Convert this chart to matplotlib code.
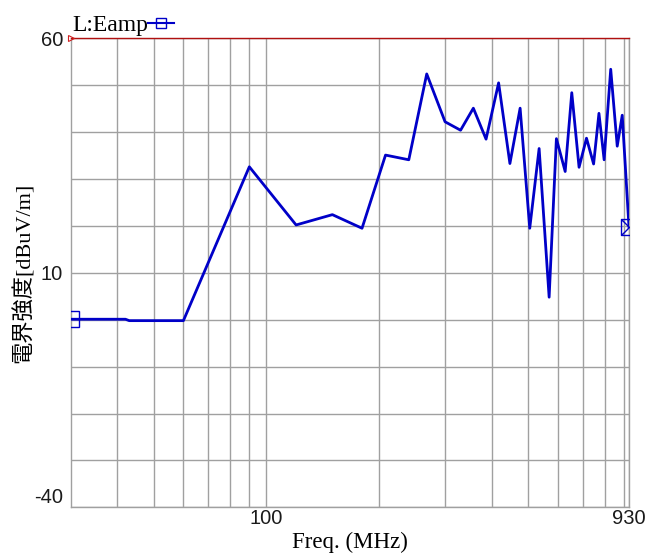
import matplotlib
matplotlib.use("Agg")
import matplotlib.pyplot as plt
from matplotlib.lines import Line2D
from matplotlib.path import Path
from matplotlib.ticker import FixedLocator, NullFormatter

# 測定データ (周波数 MHz, 電界強度 dBuV/m)
freq = [30, 42, 43, 60, 90, 120, 150, 180, 208, 240, 268, 300, 330, 357,
        386, 417, 447, 476, 505, 535, 569, 595, 628, 654, 684, 716, 748,
        773, 798, 831, 865, 892, 930]
level = [0.1, 0.1, -0.2, -0.2, 32.6, 20.2, 22.4, 19.5, 35.1, 34.1, 52.4,
         42.2, 40.4, 45.1, 38.5, 50.5, 33.3, 45.1, 19.5, 36.5, 4.8, 38.6,
         31.6, 48.4, 32.5, 38.7, 33.2, 44.0, 34.1, 53.4, 37.0, 43.6, 19.7]

x_major = [100, 930]
x_minor = [40, 50, 60, 70, 80, 90, 200, 300, 400, 500, 600, 700, 800, 900]
y_major = [-40, 10, 60]
y_minor = [-30, -20, -10, 0, 20, 30, 40, 50]

LINE_C = "#0000c8"
GRID_C = "#a0a0a0"
TICK_FONT = ["Liberation Sans", "DejaVu Sans"]
TEXT_FONT = ["Liberation Serif", "Noto Sans CJK JP"]

fig = plt.figure(figsize=(6.47, 5.6), dpi=100)
ax = fig.add_axes([0.1093, 0.0941, 0.8629, 0.8375])

ax.set_xscale("log")
ax.set_xlim(30, 930)
ax.set_ylim(-40, 60)

ax.xaxis.set_major_locator(FixedLocator(x_major))
ax.xaxis.set_minor_locator(FixedLocator(x_minor))
ax.xaxis.set_minor_formatter(NullFormatter())
ax.set_xticklabels([str(v) for v in x_major])
ax.yaxis.set_major_locator(FixedLocator(y_major))
ax.yaxis.set_minor_locator(FixedLocator(y_minor))
ax.set_yticklabels([str(v) for v in y_major])

ax.grid(True, which="both", color=GRID_C, lw=1.0)
ax.tick_params(which="both", length=0)
ax.tick_params(axis="y", pad=5.5)
ax.tick_params(axis="x", pad=1.5)
for lab in ax.get_xticklabels() + ax.get_yticklabels():
    lab.set_fontfamily(TICK_FONT)
    lab.set_fontsize(14.5)
    lab.set_color("#1a1a1a")
ax.get_yticklabels()[0].set_va("bottom")

for side in ("left", "bottom", "right"):
    ax.spines[side].set_color(GRID_C)
    ax.spines[side].set_linewidth(1.0)
ax.spines["top"].set_color("#b01010")
ax.spines["top"].set_linewidth(1.0)

# 測定波形
ax.plot(freq, level, color=LINE_C, lw=2.0, zorder=3)

# 始点・終点マーカー (枠で切れる)
ax.plot(freq[0], level[0], marker="s", ms=11.5, mfc="none", mec=LINE_C,
        mew=1.0, zorder=4)
end_mark = Path([(-1, -1), (1, -1), (1, 1), (-1, 1), (-1, -1),
                 (-1, 1), (0, 0), (-1, -1)],
                [Path.MOVETO, Path.LINETO, Path.LINETO, Path.LINETO,
                 Path.CLOSEPOLY, Path.MOVETO, Path.LINETO, Path.LINETO])
ax.plot(freq[-1], level[-1], marker=end_mark, ms=11.5, mfc="none",
        mec=LINE_C, mew=1.0, zorder=4)

# 上限ラインの端の印
ax.plot([0], [1], transform=ax.transAxes, marker=">", ms=4, mfc="none",
        mec="#d02020", mew=0.8, clip_on=False, zorder=5)

handle = Line2D([], [], color=LINE_C, lw=1.5, marker="s", ms=7,
                mfc="none", mec=LINE_C, mew=1.0)
fig.legend([handle], ["L:Eamp"], loc="lower left",
           bbox_to_anchor=(72 / 647, (560 - 36) / 560), frameon=False,
           markerfirst=False, handlelength=1.1, handletextpad=0.0,
           borderpad=0, borderaxespad=0,
           prop={"family": TEXT_FONT, "size": 17})

ax.set_xlabel("Freq. (MHz)", family=TEXT_FONT, fontsize=16.5)
ax.xaxis.set_label_coords(0.5, -0.052)
ax.set_ylabel("電界強度[dBuV/m]", family=TEXT_FONT, fontsize=16)
ax.yaxis.set_label_coords(-0.064, 0.5)

fig.savefig("out.png", dpi=100)
